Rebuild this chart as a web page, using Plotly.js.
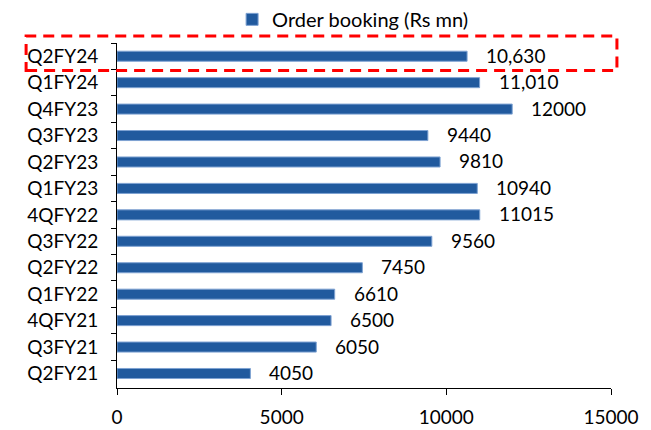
<!DOCTYPE html>
<html>
<head>
<meta charset="utf-8">
<script src="https://cdn.plot.ly/plotly-3.0.1.min.js"></script>
<style>
  html, body { margin: 0; padding: 0; background: #fff; }
  #chart { width: 651px; height: 430px; }
</style>
</head>
<body>
<div id="chart"></div>
<script>
const categories = ["Q2FY24","Q1FY24","Q4FY23","Q3FY23","Q2FY23","Q1FY23","4QFY22","Q3FY22","Q2FY22","Q1FY22","4QFY21","Q3FY21","Q2FY21"];
const orderBooking = [10630, 11010, 12000, 9440, 9810, 10940, 11015, 9560, 7450, 6610, 6500, 6050, 4050];
const valueLabels = ["10,630","11,010","12000","9440","9810","10940","11015","9560","7450","6610","6500","6050","4050"];
const seriesName = "Order booking (Rs mn)";
const xTicks = [0, 5000, 10000, 15000];

const FONT = "Lato, 'Open Sans', sans-serif";
const BAR = "#215A9E";

const trace = {
  type: "bar",
  orientation: "h",
  name: seriesName,
  y: categories,
  x: orderBooking,
  width: 0.38,
  marker: { color: BAR, line: { color: "#7EA2D2", width: 1 } },
  hoverinfo: "x+y",
  showlegend: true
};

const annotations = categories.map((c, i) => ({
  x: orderBooking[i],
  y: c,
  xref: "x",
  yref: "y",
  text: valueLabels[i],
  showarrow: false,
  xanchor: "left",
  yanchor: "middle",
  xshift: 17,
  yshift: 1,
  font: { family: FONT, size: 19, color: "#000" }
}));

const layout = {
  width: 651,
  height: 430,
  margin: { l: 117, r: 40, t: 43, b: 42, autoexpand: false },
  paper_bgcolor: "#fff",
  plot_bgcolor: "#fff",
  font: { family: FONT, size: 19, color: "#000" },
  showlegend: true,
  legend: {
    orientation: "h",
    x: 0.233,
    xanchor: "left",
    y: 1.012,
    yanchor: "bottom",
    font: { family: FONT, size: 20, color: "#000" },
    bgcolor: "rgba(0,0,0,0)",
    itemwidth: 30
  },
  xaxis: {
    range: [0, 15000],
    tickvals: xTicks,
    ticktext: xTicks.map(String),
    showgrid: false,
    zeroline: false,
    showline: true,
    linecolor: "#000",
    linewidth: 1,
    ticks: "outside",
    ticklen: 6,
    tickcolor: "#000",
    ticklabelstandoff: 6,
    tickfont: { family: FONT, size: 19, color: "#000" },
    fixedrange: true
  },
  yaxis: {
    type: "category",
    autorange: "reversed",
    showgrid: false,
    zeroline: false,
    showline: true,
    linecolor: "#000",
    linewidth: 1,
    ticks: "outside",
    tickson: "boundaries",
    ticklen: 5,
    tickcolor: "#000",
    ticklabelstandoff: 14,
    tickfont: { family: FONT, size: 19, color: "#000" },
    fixedrange: true
  },
  annotations: annotations,
  shapes: [{
    type: "rect",
    xref: "paper",
    yref: "paper",
    x0: -0.184, x1: 1.012,
    y0: 0.92, y1: 1.02,
    line: { color: "#FF0000", width: 3, dash: "11px,7px" },
    fillcolor: "rgba(0,0,0,0)"
  }]
};

Plotly.newPlot("chart", [trace], layout, { displayModeBar: false, staticPlot: true });
</script>
</body>
</html>
